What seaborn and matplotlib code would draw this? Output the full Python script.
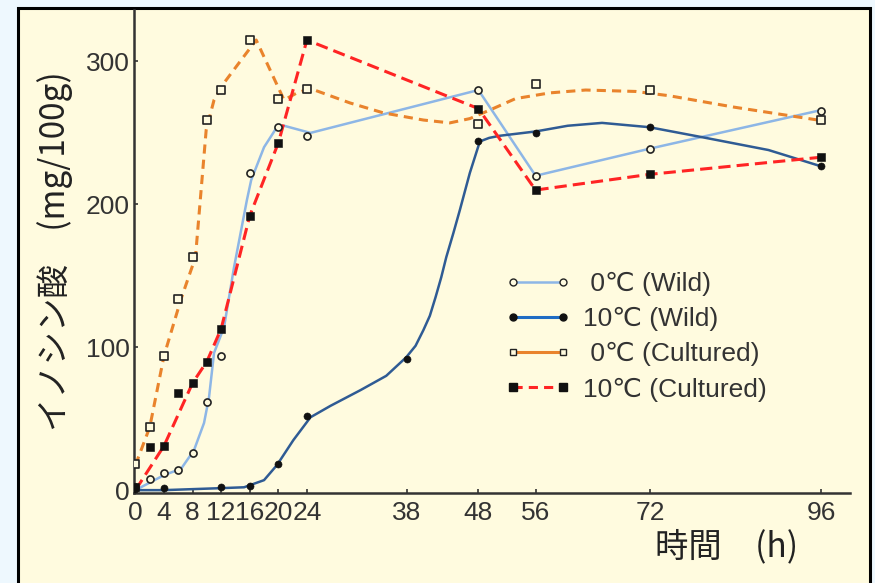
import pandas as pd
import numpy as np
import matplotlib
matplotlib.use("Agg")
import matplotlib.pyplot as plt
import seaborn as sns
from matplotlib.lines import Line2D
from matplotlib.patches import Rectangle

# measured points (markers)
h_w0 = [0, 2, 4, 6, 8, 10, 12, 16, 20, 24, 48, 56, 72, 96]
v_w0 = [2, 8, 12, 14, 26, 62, 94, 222, 254, 248, 280, 220, 239, 265]
h_w10 = [0, 4, 12, 16, 20, 24, 38, 48, 56, 72, 96]
v_w10 = [1, 1.5, 2, 3, 18, 52, 92, 244, 250, 254, 227]
h_c0 = [0, 2, 4, 6, 8, 10, 12, 16, 20, 24, 48, 56, 72, 96]
v_c0 = [18, 44, 94, 134, 163, 259, 280, 315, 274, 281, 256, 284, 280, 259]
h_c10 = [0, 2, 4, 6, 8, 10, 12, 16, 20, 24, 48, 56, 72, 96]
v_c10 = [2, 30, 31, 68, 75, 90, 113, 192, 243, 315, 267, 210, 221, 233]

# fitted curves
lh_w0 = [0, 4, 6.4, 8.2, 9.6, 10.3, 11, 12.4, 13.8, 15.6, 16.2, 18, 19.8, 20.8, 24.5, 48, 56, 72, 96]
lv_w0 = [0, 10.5, 15, 28, 47, 65, 96, 114, 156, 203, 217, 240, 254, 255, 250, 280, 220, 239, 266]
lh_w10 = [0, 4, 12, 15.2, 18, 19.8, 22.1, 24.5, 27.3, 31.5, 35.1, 37.9, 39.2, 40.3, 41.2, 42,
          42.8, 43.5, 44.5, 45.4, 46.8, 48.2, 49.5, 51, 56, 60.5, 65.3, 71.9, 79.3, 88.6, 95.7]
lv_w10 = [0, 0, 1.4, 2, 7, 17.5, 35, 51, 59, 70, 80, 93, 101, 112, 122, 135,
          149, 163, 180, 196, 222, 244, 246.5, 248, 251, 255, 257, 254, 247, 238, 227]
lh_c0 = [0, 2, 4, 6.4, 8.4, 9.9, 11, 12.4, 14.5, 16.9, 20.8, 22.6, 24.5, 30, 34.7, 40.3, 44,
         46.8, 49.6, 53.2, 58, 63, 70, 74.7, 83.8, 95.5]
lv_c0 = [17.5, 44, 94, 134, 163, 252, 273, 285, 299, 315, 273, 278, 281, 271, 264, 259, 257,
         260, 266, 274, 278, 280, 279, 276, 268, 259]
lh_c10 = [0, 4, 8, 10, 12, 16, 20, 24, 48, 56, 72, 96]
lv_c10 = [0, 31, 75, 90, 113, 192, 243, 315, 267, 210, 221, 233]

xticks = [0, 4, 8, 12, 16, 20, 24, 38, 48, 56, 72, 96]
yticks = [0, 100, 200, 300]
labels = [" 0℃ (Wild)", "10℃ (Wild)", " 0℃ (Cultured)", "10℃ (Cultured)"]

c_w0, c_w10, c_c0, c_c10 = "#8db6e6", "#2f5b94", "#e9832c", "#ff2424"
cream = "#fffbdf"

sns.set_theme(style="ticks")
plt.rcParams['font.family'] = ['Liberation Sans', 'DejaVu Sans', 'Noto Sans CJK JP']
jp = ['Noto Sans CJK JP', 'DejaVu Sans']

fig = plt.figure(figsize=(8.75, 5.83), dpi=100, facecolor="#eef8fe")
fig.patches.append(Rectangle((18 / 875, -0.05), 852 / 875, 1.05 - 8 / 583,
                             transform=fig.transFigure, facecolor=cream,
                             edgecolor="black", linewidth=2.2, zorder=-1))
ax = fig.add_axes([134 / 875, 90 / 583, 716 / 875, 483 / 583])
ax.set_facecolor("none")

def df(h, v):
    return pd.DataFrame({"h": h, "v": v})

sns.lineplot(data=df(lh_w0, lv_w0), x="h", y="v", ax=ax, color=c_w0, lw=1.8,
             sort=False, estimator=None)
sns.lineplot(data=df(lh_w10, lv_w10), x="h", y="v", ax=ax, color=c_w10, lw=1.8,
             sort=False, estimator=None)
sns.lineplot(data=df(lh_c0, lv_c0), x="h", y="v", ax=ax, color=c_c0, lw=2.2,
             sort=False, estimator=None, linestyle=(0, (3, 2)))
sns.lineplot(data=df(lh_c10, lv_c10), x="h", y="v", ax=ax, color=c_c10, lw=2.2,
             sort=False, estimator=None, linestyle=(0, (4, 2)))

sns.scatterplot(data=df(h_w0, v_w0), x="h", y="v", ax=ax, marker="o", s=26,
                facecolor=cream, edgecolor="#222222", linewidth=1.2, zorder=5)
sns.scatterplot(data=df(h_w10, v_w10), x="h", y="v", ax=ax, marker="o", s=26,
                color="#111111", edgecolor="#111111", zorder=5)
sns.scatterplot(data=df(h_c0, v_c0), x="h", y="v", ax=ax, marker="s", s=26,
                facecolor=cream, edgecolor="#222222", linewidth=1.2, zorder=5)
sns.scatterplot(data=df(h_c10, v_c10), x="h", y="v", ax=ax, marker="s", s=26,
                color="#111111", edgecolor="#111111", zorder=5)

ax.set_xlim(-0.2, 100)
ax.set_ylim(-2, 336)
ax.set_xticks(xticks)
ax.set_yticks(yticks)
ax.tick_params(direction="in", length=3, width=1.2, labelsize=19, colors="#333333", pad=6)
ax.tick_params(axis="y", pad=3)
sns.despine(ax=ax)
for s in ["left", "bottom"]:
    ax.spines[s].set_color("#333333")
    ax.spines[s].set_linewidth(1.8)

ax.set_ylabel("イノシン酸\u3000(mg/100g)", fontsize=24, family=jp, color="#222222", va="center")
ax.yaxis.set_label_coords((55 - 134) / 716, 0.5)
ax.set_xlabel("時間\u3000(h)", fontsize=24, family=jp, color="#222222", va="center")
ax.xaxis.set_label_coords((727 - 134) / 716, -(547 - 493) / 483)

handles = [
    Line2D([], [], color=c_w0, lw=1.8, marker="o", ms=5, mfc=cream, mec="#222222"),
    Line2D([], [], color="#1f6cc4", lw=2.2, marker="o", ms=5, mfc="#111111", mec="#111111"),
    Line2D([], [], color=c_c0, lw=2.2, marker="s", ms=5, mfc=cream, mec="#222222"),
    Line2D([], [], color=c_c10, lw=2.2, ls=(0, (3, 2)), marker="s", ms=6, mfc="#111111", mec="#111111"),
]
ax.legend(handles, labels, loc="upper left", bbox_to_anchor=((505 - 134) / 716, (493 - 272) / 483),
          frameon=False, numpoints=2, handlelength=2.5, handletextpad=0.45, labelspacing=0.42,
          fontsize=19, labelcolor="#333333", borderpad=0, borderaxespad=0)

fig.savefig("out.png", dpi=100, facecolor=fig.get_facecolor())
